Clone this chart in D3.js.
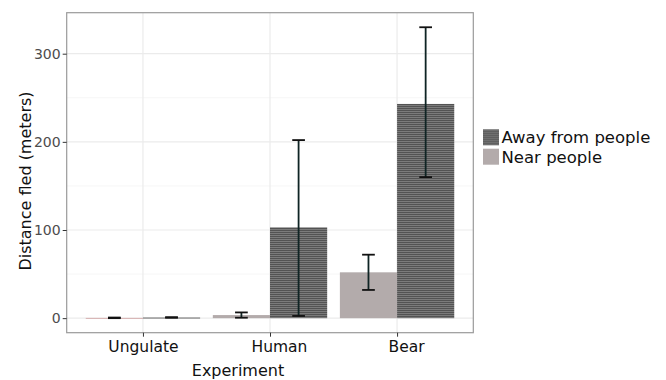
<!DOCTYPE html>
<html>
<head>
<meta charset="utf-8">
<script src="https://cdn.jsdelivr.net/npm/d3@7/dist/d3.min.js"></script>
<style>
  html, body { margin: 0; padding: 0; background: #fff; }
  svg { display: block; font-family: "DejaVu Sans", Verdana, sans-serif; }
</style>
</head>
<body>
<svg id="chart" width="666" height="380"></svg>
<script>
// data
var experiments = ['Ungulate', 'Human', 'Bear'];
var groups = ['Near people', 'Away from people'];
var legendOrder = ['Away from people', 'Near people'];
var nearMean = [0.3, 3.5, 52];
var nearLo = [0.0, 0.5, 32];
var nearHi = [0.7, 6.5, 72];
var awayMean = [0.8, 103, 243];
var awayLo = [0.5, 2.5, 160];
var awayHi = [1.1, 202, 330];
var yTicks = [0, 100, 200, 300];
var yMinor = [50, 150, 250];

var rows = [];
experiments.forEach(function(e, i) {
  rows.push({ exp: e, grp: 'Near people', v: nearMean[i], lo: nearLo[i], hi: nearHi[i] });
  rows.push({ exp: e, grp: 'Away from people', v: awayMean[i], lo: awayLo[i], hi: awayHi[i] });
});

var W = 666, H = 380;
var P = { l: 66.7, r: 473.3, t: 12.7, b: 332.7 };
var svg = d3.select('#chart');

var defs = svg.append('defs');
var pat = defs.append('pattern').attr('id', 'stripes').attr('patternUnits', 'userSpaceOnUse')
  .attr('width', 4).attr('height', 2);
pat.append('rect').attr('width', 4).attr('height', 2).attr('fill', '#535353');
pat.append('rect').attr('y', 1).attr('width', 4).attr('height', 1).attr('fill', '#7b7b7b');

function fillOf(g) { return g === 'Near people' ? '#b3abab' : 'url(#stripes)'; }

var x = d3.scalePoint().domain(experiments).range([P.l, P.r]).padding(0.6);
var step = x.step();
var xs = d3.scaleBand().domain(groups).range([-0.45 * step, 0.45 * step]);
// ggplot default expansion: 5% of the data range
var y = d3.scaleLinear().domain([-16.5, 346.5]).range([P.b, P.t]);

// grid
var grid = svg.append('g');
grid.selectAll('.minor').data(yMinor).enter().append('line')
  .attr('x1', P.l).attr('x2', P.r).attr('y1', y).attr('y2', y)
  .attr('stroke', '#f4f4f4').attr('stroke-width', 0.8);
grid.selectAll('.major').data(yTicks).enter().append('line')
  .attr('x1', P.l).attr('x2', P.r).attr('y1', y).attr('y2', y)
  .attr('stroke', '#ebebeb').attr('stroke-width', 1.2);
grid.selectAll('.xg').data(experiments).enter().append('line')
  .attr('x1', x).attr('x2', x).attr('y1', P.t).attr('y2', P.b)
  .attr('stroke', '#ebebeb').attr('stroke-width', 1.2);

// bars
svg.append('g').selectAll('rect').data(rows).enter().append('rect')
  .attr('x', function(d) { return x(d.exp) + xs(d.grp); })
  .attr('width', xs.bandwidth())
  .attr('y', function(d) { return y(d.v); })
  .attr('height', function(d) { return Math.max(1, y(0) - y(d.v)); })
  .attr('fill', function(d) { return d.exp === 'Ungulate' && d.grp === 'Near people' ? '#d6b0b0' : fillOf(d.grp); });

// error bars
var cap = 0.1 * step;
var eb = svg.append('g').selectAll('g').data(rows).enter().append('g')
  .attr('transform', function(d) { return 'translate(' + (x(d.exp) + xs(d.grp) + xs.bandwidth() / 2) + ',0)'; });
eb.append('line').attr('y1', function(d) { return y(d.lo); }).attr('y2', function(d) { return y(d.hi); })
  .attr('stroke', '#0f2424').attr('stroke-width', 1.8);
eb.append('line').attr('x1', -cap / 2).attr('x2', cap / 2).attr('y1', function(d) { return y(d.hi); }).attr('y2', function(d) { return y(d.hi); })
  .attr('stroke', '#111').attr('stroke-width', 1.8);
eb.append('line').attr('x1', -cap / 2).attr('x2', cap / 2).attr('y1', function(d) { return y(d.lo); }).attr('y2', function(d) { return y(d.lo); })
  .attr('stroke', '#111').attr('stroke-width', 1.8);

// panel border
svg.append('rect').attr('x', P.l).attr('y', P.t).attr('width', P.r - P.l).attr('height', P.b - P.t)
  .attr('fill', 'none').attr('stroke', '#9a9a9a').attr('stroke-width', 1.2);

// axes
var ya = svg.append('g').attr('transform', 'translate(' + P.l + ',0)')
  .call(d3.axisLeft(y).tickValues(yTicks).tickSize(4).tickPadding(2).tickFormat(d3.format('d')));
ya.select('.domain').remove();
ya.selectAll('line').attr('stroke', '#333');
ya.selectAll('text').attr('fill', '#4d4d4d').attr('font-size', '14px').attr('font-family', 'DejaVu Sans');

var xa = svg.append('g').attr('transform', 'translate(0,' + P.b + ')')
  .call(d3.axisBottom(x).tickSize(4).tickPadding(4));
xa.select('.domain').remove();
xa.selectAll('line').attr('stroke', '#333');
xa.selectAll('text').attr('fill', '#111').attr('font-size', '15.5px').attr('font-family', 'DejaVu Sans')
  .attr('dx', function(d, i) { return i === 0 ? 0 : 9; });

// axis titles
svg.append('text').attr('x', 238).attr('y', 376).attr('text-anchor', 'middle')
  .attr('font-size', '16px').attr('fill', '#111').text('Experiment');
svg.append('text').attr('transform', 'translate(31,181) rotate(-90)').attr('text-anchor', 'middle')
  .attr('font-size', '16px').attr('fill', '#111').text('Distance fled (meters)');

// legend
var lg = svg.append('g').attr('transform', 'translate(483,129.3)');
var li = lg.selectAll('g').data(legendOrder).enter().append('g')
  .attr('transform', function(d, i) { return 'translate(0,' + (i * 19.4) + ')'; });
li.append('rect').attr('width', 16).attr('height', 16).attr('fill', fillOf);
li.append('text').attr('x', 18.5).attr('y', 14).attr('font-size', '16.5px').attr('fill', '#111').text(function(d) { return d; });
</script>
</body>
</html>
